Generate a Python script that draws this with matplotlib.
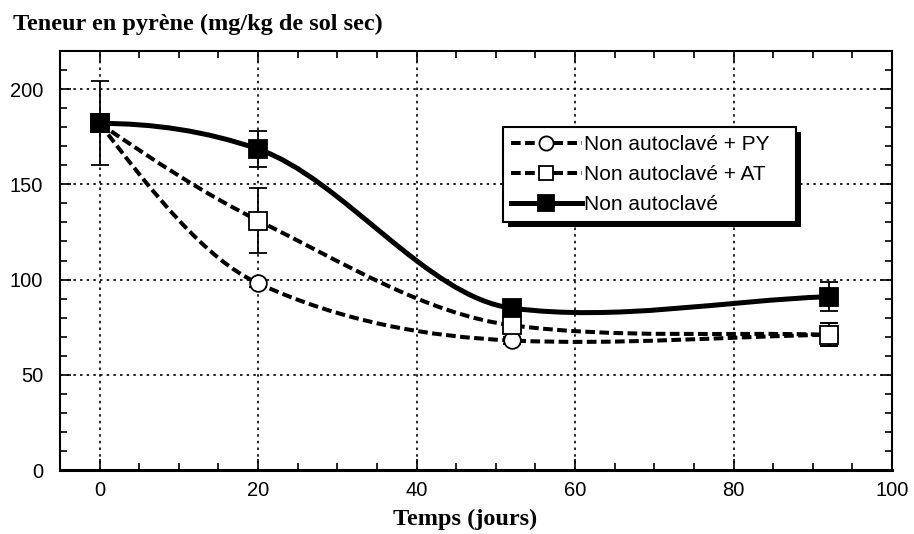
#!/usr/bin/env python3
"""Teneur en pyrène vs temps - courbes lissées avec barres d'erreur"""

import matplotlib
matplotlib.use('Agg')
import matplotlib.pyplot as plt
from matplotlib.path import Path
from matplotlib.patches import PathPatch, Rectangle
from matplotlib.lines import Line2D
from matplotlib.ticker import MultipleLocator
import numpy as np

plt.rcParams['font.family'] = ['Liberation Sans', 'DejaVu Sans']

# Data
days = [0, 20, 52, 92]

py_vals = [182, 98, 68, 71]
py_err = [2, 2, 2, 6]

at_vals = [182, 131, 76, 71]
at_err = [2, 17, 3, 6]

na_vals = [182, 168.5, 85, 91]
na_err = [22, 9.5, 3, 7.5]

labels = ['Non autoclavé + PY', 'Non autoclavé + AT', 'Non autoclavé']


def tangents(x, y):
    """Blend of shape-preserving (Fritsch-Carlson) and central-difference slopes"""
    x = np.asarray(x, float)
    y = np.asarray(y, float)
    h = np.diff(x)
    s = np.diff(y) / h
    m = np.zeros_like(y)
    for k in range(1, len(x) - 1):
        central = (y[k + 1] - y[k - 1]) / (x[k + 1] - x[k - 1])
        pchip = 0.0
        if s[k - 1] * s[k] > 0:
            w1 = 2 * h[k] + h[k - 1]
            w2 = h[k] + 2 * h[k - 1]
            pchip = (w1 + w2) / (w1 / s[k - 1] + w2 / s[k])
        m[k] = 0.5 * pchip + 0.5 * central
    m[0] = ((2 * h[0] + h[1]) * s[0] - h[0] * s[1]) / (h[0] + h[1])
    if m[0] * s[0] <= 0:
        m[0] = 0
    m[-1] = s[-1]
    return m


def smooth_path(x, y):
    """Bezier path through the points, rendered by matplotlib"""
    m = tangents(x, y)
    verts = [(x[0], y[0])]
    codes = [Path.MOVETO]
    for k in range(len(x) - 1):
        h = x[k + 1] - x[k]
        verts += [(x[k] + h / 3, y[k] + m[k] * h / 3),
                  (x[k + 1] - h / 3, y[k + 1] - m[k + 1] * h / 3),
                  (x[k + 1], y[k + 1])]
        codes += [Path.CURVE4] * 3
    return Path(verts, codes)


fig = plt.figure(figsize=(9.14, 5.34), dpi=100)
ax = fig.add_axes([60 / 914, 1 - 470 / 534, 832 / 914, 419 / 534])

dash = (0, (2.4, 1.1))
series = [
    (py_vals, py_err, dash, 2.9, 'o', 'white', 12),
    (at_vals, at_err, dash, 2.9, 's', 'white', 12.5),
    (na_vals, na_err, '-', 3.6, 's', 'black', 13.5),
]

handles = []
for (vals, err, ls, lw, mk, fc, ms), lab in zip(series, labels):
    patch = PathPatch(smooth_path(days, vals), fill=False, edgecolor='black',
                      linewidth=lw, linestyle=ls, zorder=2,
                      transform=ax.transData, capstyle='butt')
    ax.add_patch(patch)
    ax.errorbar(days, vals, yerr=err, fmt='none', ecolor='black',
                elinewidth=1.3, capsize=6.5, capthick=1.3, zorder=3)
    ax.plot(days, vals, linestyle='none', marker=mk, markersize=ms,
            markerfacecolor=fc, markeredgecolor='black',
            markeredgewidth=1.3, zorder=4)
    handles.append(Line2D([], [], color='black', linewidth=lw, linestyle=ls,
                          marker=mk, markersize=ms * 0.85, markerfacecolor=fc,
                          markeredgecolor='black', markeredgewidth=1.3))

ax.set_xlim(-5, 100)
ax.set_ylim(0, 220)
ax.set_xticks([0, 20, 40, 60, 80, 100])
ax.xaxis.set_minor_locator(MultipleLocator(5))
ax.set_yticks([0, 50, 100, 150, 200])
ax.yaxis.set_minor_locator(MultipleLocator(10))
ax.tick_params(which='both', direction='in', top=True, right=True,
               width=1.2, labelsize=14.5)
ax.tick_params(axis='x', pad=8)
ax.tick_params(axis='y', pad=12)
ax.tick_params(which='major', length=8)
ax.tick_params(which='minor', length=5)
ax.grid(True, which='major', color='black', linestyle=(0, (1.5, 2.5)),
        linewidth=1.2)
ax.set_axisbelow(True)
for sp in ax.spines.values():
    sp.set_linewidth(1.5)
ax.spines['bottom'].set_linewidth(2.2)

leg = ax.legend(handles, labels, loc='upper left',
                bbox_to_anchor=(0.532, 0.819), borderaxespad=0,
                fontsize=15, handlelength=3.4, handletextpad=0.1,
                labelspacing=0.52, borderpad=0.4, frameon=False)
leg.set_zorder(6)

fig.text(13 / 914, 1 - 30 / 534, 'Teneur en pyrène (mg/kg de sol sec)',
         family='Liberation Serif', fontweight='bold', fontsize=17.5,
         va='baseline', ha='left')
ax.set_xlabel('Temps (jours)', family='Liberation Serif', fontweight='bold',
              fontsize=17.5, va='baseline')
ax.xaxis.set_label_coords(0.487, -0.131)

# legend box with a wider right margin and a solid drop shadow
fig.canvas.draw()
bb = leg.get_window_extent()
box_w = bb.width + 18
shadow = Rectangle((bb.x0 + 5, bb.y0 - 5), box_w, bb.height,
                   transform=None, facecolor='black', edgecolor='none',
                   zorder=5.5)
frame = Rectangle((bb.x0, bb.y0), box_w, bb.height, transform=None,
                  facecolor='white', edgecolor='black', linewidth=1.5,
                  zorder=5.7)
ax.add_artist(shadow)
ax.add_artist(frame)

plt.savefig('out.png', dpi=100)
plt.close()
